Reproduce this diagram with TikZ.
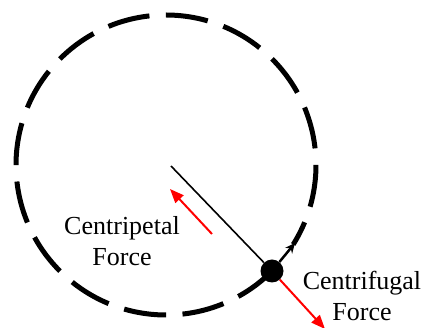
\documentclass[tikz,border=0pt]{standalone}
\usepackage{fontspec}
\setmainfont{Liberation Serif}
\usetikzlibrary{arrows.meta}

\begin{document}
\begin{tikzpicture}[x=1pt, y=-1pt,
  force/.style={red, line width=2pt, -{Triangle[length=14pt,width=11pt]}},
  labeltext/.style={align=center, inner sep=0pt, font=\fontsize{26}{31}\selectfont}]
\useasboundingbox (0,0) rectangle (424,328);
\coordinate (O) at (166,165);
\coordinate (hub) at (171,166);
\draw[line width=5pt, dash pattern=on 42.4pt off 16.5pt] (O) ++(45:150) arc[start angle=45, end angle=392, radius=150];
\node[circle, fill=black, minimum size=23pt, inner sep=0pt] (ball) at (272,271) {};
\draw[line width=1.6pt] (hub) -- (ball);
\coordinate (cpTail) at (212,234);
\coordinate (cpTip) at (170,189);
\coordinate (cfTip) at (325,329);
\coordinate (vTip) at (295,243);
\draw[force] (cpTail) -- (cpTip);
\draw[force] (ball) -- (cfTip);
\draw[line width=2.5pt, -{Stealth[length=10pt,width=9pt]}] (ball) -- (vTip);
\node[labeltext] (cp) at (122,241) {Centripetal\\Force};
\node[labeltext] (cf) at (362,296) {Centrifugal\\Force};
\end{tikzpicture}
\end{document}
